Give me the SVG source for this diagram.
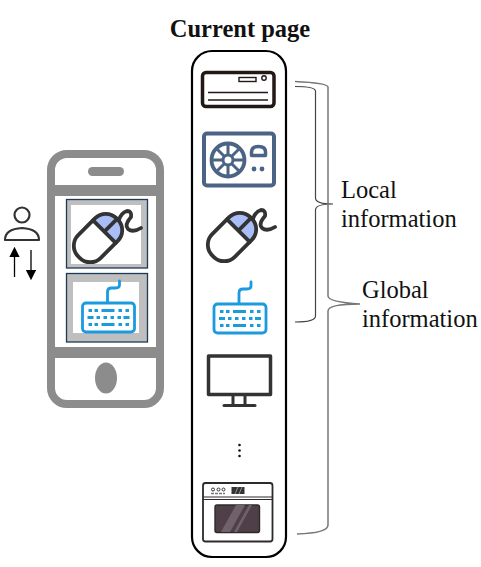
<svg xmlns="http://www.w3.org/2000/svg" width="481" height="567" viewBox="0 0 481 567">
<style>
.t{font-family:"Liberation Serif","Times New Roman",serif;font-size:24.500px;fill:#111}
.brace{fill:none;stroke:#444;stroke-width:1.200}
.dark{fill:none;stroke:#333;stroke-width:3.800;stroke-linecap:round;stroke-linejoin:round}
.blue{fill:none;stroke:#1b9ae0;stroke-width:2.800;stroke-linecap:round;stroke-linejoin:round}
.kd{fill:#1b9ae0}
.frame{fill:#bfbfbf;stroke:#1f3a56;stroke-width:1.300}
</style>
<defs>
<g id="mouse">
<g transform="rotate(-45)">
<rect x="-27" y="-16" width="54" height="32" rx="15" fill="#fff"/>
<path d="M9 -16H12Q27 -16 27 -1V1Q27 16 12 16H9Z" fill="#a9bdf8"/>
<rect class="dark" x="-27" y="-16" width="54" height="32" rx="15"/>
<path class="dark" d="M9 -16V16M9 0H27"/>
</g>
<path class="dark" d="M21 -18Q23 -25 29 -27Q34 -27 33 -21Q26 -13 30 -9Q35 -5 43 -10"/>
</g>
<g id="keyboard">
<rect class="blue" x="1" y="1" width="52" height="29" rx="3.500" fill="#fff"/>
<path class="blue" d="M26 0V-10Q26 -14 30 -14H34Q38 -14 38 -17V-21"/>
<g class="kd">
<rect x="7" y="7" width="3.500" height="3"/><rect x="13" y="7" width="3.500" height="3"/><rect x="20" y="7" width="13" height="3"/><rect x="37" y="7" width="3.500" height="3"/><rect x="44" y="7" width="3.500" height="3"/>
<rect x="6" y="14" width="6" height="3"/><rect x="15" y="14" width="3.500" height="3"/><rect x="22" y="14" width="3.500" height="3"/><rect x="29" y="14" width="3.500" height="3"/><rect x="36" y="14" width="3.500" height="3"/><rect x="42" y="14" width="6" height="3"/>
<rect x="7" y="21" width="3.500" height="3"/><rect x="13" y="21" width="3.500" height="3"/><rect x="20" y="21" width="13" height="3"/><rect x="37" y="21" width="3.500" height="3"/><rect x="44" y="21" width="3.500" height="3"/>
</g>
</g>
<marker id="ah" markerWidth="8" markerHeight="9" refX="4" refY="4" orient="auto"><path d="M0 0L8 4L0 8Z" fill="#000"/></marker>
</defs>
<text class="t" x="240" y="36.500" text-anchor="middle" style="font-weight:bold">Current page</text>

<g id="page"><rect x="192" y="51" width="94" height="506" rx="20" fill="#fff" stroke="#000" stroke-width="2.200"/></g>

<g id="phone">
<rect x="51" y="154" width="109" height="250" rx="16" fill="#fff" stroke="#8c8c8c" stroke-width="8"/>
<rect x="50" y="185" width="111" height="11" fill="#8c8c8c"/>
<rect x="50" y="347" width="111" height="11" fill="#8c8c8c"/>
<rect x="88" y="167" width="36" height="9" rx="4.500" fill="#8c8c8c"/>
<ellipse cx="106" cy="378" rx="11" ry="15.500" fill="#8c8c8c"/>
<rect class="frame" x="66.500" y="199.500" width="81" height="68.500"/>
<rect x="71" y="205" width="70" height="59" fill="#fff"/>
<rect class="frame" x="66.500" y="273.500" width="81" height="68.500"/>
<rect x="73" y="282" width="66" height="51" fill="#fff"/>
<use href="#mouse" transform="translate(98,238)"/>
<use href="#keyboard" transform="translate(81.500,302)"/>
</g>

<g id="user">
<circle cx="22" cy="215" r="7.500" fill="#fff" stroke="#333" stroke-width="2.200"/>
<path d="M5 240Q5 229 22 228Q39 229 39 240Z" fill="#fff" stroke="#333" stroke-width="2.200" stroke-linejoin="round"/>
<path d="M14.500 277V252" stroke="#000" stroke-width="1.300" marker-end="url(#ah)"/>
<path d="M31 250V275" stroke="#000" stroke-width="1.300" marker-end="url(#ah)"/>
</g>

<g id="air-conditioner">
<rect x="202.500" y="72.500" width="71.500" height="34" rx="3.500" fill="#fff" stroke="#231815" stroke-width="3.500"/>
<rect x="239" y="77.500" width="17" height="4" fill="#fff" stroke="#231815" stroke-width="1.400"/>
<circle cx="264" cy="78" r="2.200" fill="#fff" stroke="#231815" stroke-width="1.400"/>
<path d="M208 92.500H268M208 100H268" stroke="#231815" stroke-width="1.500"/>
</g>

<g id="fan-unit">
<rect x="204" y="133.500" width="70" height="52" rx="3" fill="#fff" stroke="#4b6384" stroke-width="4"/>
<circle cx="228" cy="160" r="16.500" fill="#fff" stroke="#4b6384" stroke-width="3.800"/>
<circle cx="228" cy="160" r="5" fill="#fff" stroke="#4b6384" stroke-width="3"/>
<path d="M228 145V155M228 165V175M213 160H223M233 160H243M217.500 149.500L224.500 156.500M231.500 163.500L238.500 170.500M238.500 149.500L231.500 156.500M224.500 163.500L217.500 170.500" stroke="#4b6384" stroke-width="3"/>
<path d="M251.500 155.500V152Q251.500 146.500 258.500 146.500Q265.500 146.500 265.500 152V155.500Z" fill="#fff" stroke="#4b6384" stroke-width="3.500" stroke-linejoin="round"/>
<circle cx="254" cy="169" r="2.400" fill="#4b6384"/><circle cx="262" cy="169" r="2.400" fill="#4b6384"/>
</g>

<g id="mouse-item"><use href="#mouse" transform="translate(232,237)"/></g>
<g id="keyboard-item"><use href="#keyboard" transform="translate(213,303)"/></g>

<g id="monitor">
<rect x="208.500" y="356" width="62" height="38.500" fill="#fff" stroke="#333" stroke-width="3.500" stroke-linejoin="round"/>
<path d="M233 396V405M245 396V405" stroke="#333" stroke-width="3"/>
<path d="M224 405.500H255" stroke="#333" stroke-width="3" stroke-linecap="round"/>
</g>

<g id="dots" fill="#111"><circle cx="239.500" cy="445" r="1.300"/><circle cx="239.500" cy="450.500" r="1.300"/><circle cx="239.500" cy="456" r="1.300"/></g>

<g id="oven">
<rect x="203" y="483" width="69.500" height="58.500" rx="2.500" fill="#fff" stroke="#2e2a2b" stroke-width="1.800"/>
<path d="M203 497H273M203 499.500H273" stroke="#2e2a2b" stroke-width="1.100"/>
<rect x="215" y="505" width="44.500" height="27.500" rx="2" fill="#4f4048" stroke="#2e2a2b" stroke-width="1.400"/>
<path d="M221 532L236 505H245L230 532ZM234 532L249 505H252L237 532Z" fill="#6f626a"/>
<g fill="#fff" stroke="#333" stroke-width="1"><circle cx="213" cy="489.500" r="1.500"/><circle cx="218.500" cy="489.500" r="1.500"/><circle cx="223.500" cy="489.500" r="1.500"/></g>
<path d="M211 493.500H225" stroke="#777" stroke-width="1.500" stroke-dasharray="3 1"/>
<rect x="231.500" y="487" width="13" height="7" fill="#333"/>
<path d="M235 494L238 487M239 494L242 487" stroke="#aaa" stroke-width="0.800"/>
</g>

<g id="connectors">
<path class="brace" d="M295 86.500Q315 86.500 315.500 91V198Q315.500 204 333 204Q315.500 204 315.500 210V316Q315.500 322 295 322"/>
<path class="brace" d="M295 81.500Q327 83 328 87V296Q328 302 360 304Q328 304 328 311V525Q328 533 297 534" style="stroke:#777;stroke-width:1.500"/>
</g>

<g id="labels">
<text class="t" x="341" y="198">Local</text>
<text class="t" x="341" y="227">information</text>
<text class="t" x="362" y="298">Global</text>
<text class="t" x="362" y="327">information</text>
</g>
</svg>
